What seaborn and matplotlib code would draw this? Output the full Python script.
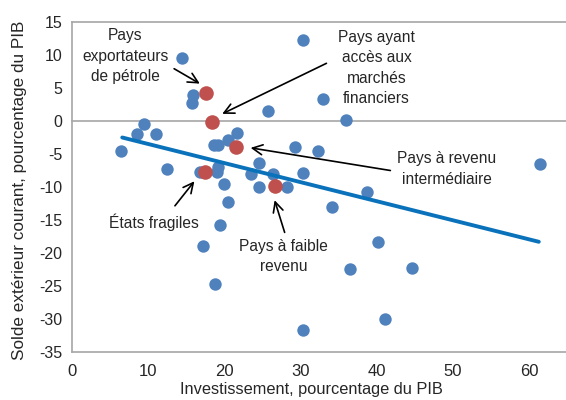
import matplotlib
matplotlib.use("Agg")
import matplotlib.pyplot as plt
import seaborn as sns
import pandas as pd

# Blue points: other countries
invest_x = [14.4, 30.3, 15.9, 15.7, 25.8, 32.9, 36.0, 9.5, 8.6, 11.0, 6.5, 21.7,
            20.5, 19.2, 18.6, 29.3, 32.3, 12.5, 16.8, 19.0, 19.2, 24.5, 23.5, 26.4,
            30.4, 20.0, 24.5, 28.3, 61.4, 38.7, 34.1, 20.5, 19.5, 17.2, 18.8, 30.3,
            40.2, 36.5, 44.7, 41.1]
solde_y = [9.6, 12.2, 4.0, 2.8, 1.5, 3.3, 0.1, -0.4, -2.0, -1.9, -4.5, -1.8,
           -2.9, -3.6, -3.7, -4.0, -4.5, -7.2, -7.7, -7.7, -6.9, -6.4, -8.1, -8.0,
           -7.9, -9.5, -10.0, -10.0, -6.5, -10.8, -13.1, -12.3, -15.8, -19.0, -24.7, -31.6,
           -18.4, -22.4, -22.2, -30.0]

# Red points: group averages
group_names = ["Pays exportateurs de pétrole", "Pays ayant accès aux marchés financiers",
               "Pays à revenu intermédiaire", "États fragiles", "Pays à faible revenu"]
group_x = [17.6, 18.4, 21.6, 17.5, 26.6]
group_y = [4.2, -0.2, -4.0, -7.8, -9.9]

# Trend line end points
trend_x = [6.6, 61.3]
trend_y = [-2.5, -18.3]

x_ticks = [0, 10, 20, 30, 40, 50, 60]
y_ticks = [-35, -30, -25, -20, -15, -10, -5, 0, 5, 10, 15]

sns.set_theme(style="white")
plt.rcParams['font.family'] = ['Liberation Sans', 'DejaVu Sans']

BLUE = "#4F81BD"
RED = "#C0504D"
LINE = "#0A72BA"
GRAY = "#A6A6A6"
TXT = "#262626"

fig = plt.figure(figsize=(5.66, 4.0), dpi=100)
ax = fig.add_axes([0.1272, 0.12, 0.8745, 0.825])

df_pts = pd.DataFrame({"x": invest_x, "y": solde_y})
df_grp = pd.DataFrame({"x": group_x, "y": group_y, "name": group_names})
df_tr = pd.DataFrame({"x": trend_x, "y": trend_y})

sns.scatterplot(data=df_pts, x="x", y="y", ax=ax, color=BLUE, s=80, linewidth=0, zorder=3)
sns.lineplot(data=df_tr, x="x", y="y", ax=ax, color=LINE, linewidth=2.8, zorder=4)
sns.scatterplot(data=df_grp, x="x", y="y", ax=ax, color=RED, s=110, linewidth=0, zorder=5)

ax.set_xlim(0, 65)
ax.set_ylim(-35, 15)
ax.set_yticks(y_ticks)
ax.set_yticklabels([str(v) for v in y_ticks])
ax.set_xticks(x_ticks)

for s in ["left", "top", "bottom"]:
    ax.spines[s].set_color(GRAY)
    ax.spines[s].set_linewidth(1.2)
ax.spines["right"].set_visible(False)
ax.spines["bottom"].set_position(("data", 0))
ax.tick_params(axis="x", direction="out", length=5, color=GRAY, width=1.2, labelbottom=False)
ax.tick_params(axis="y", direction="out", length=5, color=GRAY, width=1.2,
               labelsize=11.5, labelcolor=TXT, pad=2)

sec = ax.secondary_xaxis("bottom")
sec.set_xticks(x_ticks)
sec.set_xticklabels([str(v) for v in x_ticks])
sec.tick_params(length=0, labelsize=12, labelcolor=TXT, pad=9)
sec.spines["bottom"].set_color(GRAY)
sec.spines["bottom"].set_linewidth(1.2)
sec.set_xlabel("Investissement, pourcentage du PIB", fontsize=11.8, color=TXT, labelpad=2,
               x=0.483)

ax.set_xlabel("")
ax.set_ylabel("Solde extérieur courant, pourcentage du PIB", fontsize=12.3, color=TXT,
              labelpad=9, y=0.49)

arrow = dict(arrowstyle="->", color="black", lw=1.2, mutation_scale=18)
fs = 11.2
ls = 1.45
ax.annotate("Pays\nexportateurs\nde pétrole", xy=(17.1, 5.45), xytext=(7.0, 9.8),
            ha="center", va="center", fontsize=fs, color=TXT, linespacing=ls,
            arrowprops=dict(arrow, relpos=(0.93, 0.4)))
ax.annotate("Pays ayant\naccès aux\nmarchés\nfinanciers", xy=(19.4, 0.9), xytext=(40.0, 8.0),
            ha="center", va="center", fontsize=fs, color=TXT, linespacing=ls,
            arrowprops=dict(arrow, relpos=(-0.12, 0.58)))
ax.annotate("Pays à revenu\nintermédiaire", xy=(23.1, -4.0), xytext=(49.2, -7.3),
            ha="center", va="center", fontsize=fs, color=TXT, linespacing=ls,
            arrowprops=dict(arrow, relpos=(-0.04, 0.45)))
ax.annotate("États fragiles", xy=(16.3, -8.8), xytext=(10.7, -15.3),
            ha="center", va="center", fontsize=fs, color=TXT,
            arrowprops=dict(arrow, relpos=(0.72, 1.3)))
ax.annotate("Pays à faible\nrevenu", xy=(26.5, -11.6), xytext=(27.8, -20.5),
            ha="center", va="center", fontsize=fs, color=TXT, linespacing=ls,
            arrowprops=dict(arrow, relpos=(0.52, 1.1)))

fig.savefig("out.png", dpi=100)
